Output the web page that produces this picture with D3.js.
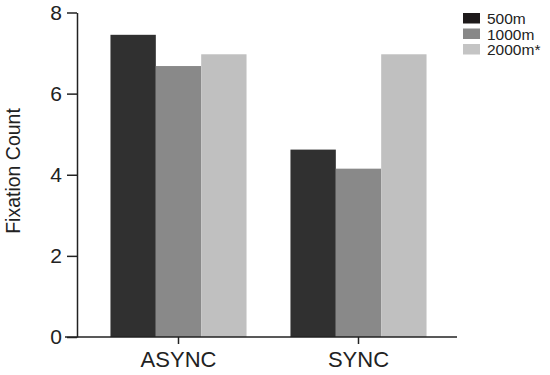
<!DOCTYPE html>
<html><head><meta charset="utf-8">
<script src="https://cdn.jsdelivr.net/npm/d3@7"></script>
<style>body{margin:0;background:#fff}svg{display:block}text{font-family:"Liberation Sans",Arial,sans-serif;fill:#222}</style>
</head><body>
<svg id="c" width="550" height="375"></svg>
<script>
const categories = ["ASYNC", "SYNC"];
const seriesNames = ["500m", "1000m", "2000m*"];
const s500 = [7.45, 4.62];
const s1000 = [6.68, 4.15];
const s2000 = [6.97, 6.97];
const yTicks = [0, 2, 4, 6, 8];
const barColors = ["#303030", "#898989", "#c0c0c0"];
const legendColors = ["#1e1a1b", "#888888", "#c4c4c4"];

const series = [s500, s1000, s2000];
const svg = d3.select("#c");
const y = d3.scaleLinear().domain([0, 8]).range([337, 12.5]);
const x0 = d3.scaleBand().domain(categories).range([88.5, 448.5]).paddingInner(0.244).paddingOuter(0.122);
const x1 = d3.scaleBand().domain(seriesNames).range([0, x0.bandwidth()]);

// bars
categories.forEach((c, ci) => {
  svg.append("g").selectAll("rect").data(seriesNames).join("rect")
    .attr("x", d => x0(c) + x1(d))
    .attr("width", x1.bandwidth())
    .attr("y", (d, si) => y(series[si][ci]))
    .attr("height", (d, si) => y(0) - y(series[si][ci]))
    .attr("fill", (d, si) => barColors[si]);
});

// y axis
const ya = svg.append("g").attr("transform", "translate(77,0)")
  .call(d3.axisLeft(y).tickValues(yTicks).tickSize(10).tickPadding(5).tickSizeOuter(0));
ya.select(".domain").attr("stroke", "#222").attr("stroke-width", 1.5);
ya.selectAll(".tick line").attr("stroke", "#222").attr("stroke-width", 1.5);
ya.selectAll(".tick text").style("font-size", "21px").attr("fill", "#222");

// x axis
const xa = svg.append("g").attr("transform", "translate(0,337)")
  .call(d3.axisBottom(x0).tickSize(7).tickPadding(7).tickSizeOuter(0));
xa.select(".domain").remove();
xa.selectAll(".tick line").attr("stroke", "#222").attr("stroke-width", 1.5);
xa.selectAll(".tick text").style("font-size", "22px").attr("fill", "#222").attr("dy", "0.72em");
svg.append("line").attr("x1", 65).attr("x2", 457).attr("y1", 337).attr("y2", 337)
  .attr("stroke", "#222").attr("stroke-width", 1.5);

// y label
svg.append("text").attr("transform", "translate(20,171) rotate(-90)")
  .attr("text-anchor", "middle").style("font-size", "19.5px").text("Fixation Count");

// legend
const lg = svg.append("g").attr("transform", "translate(463,13)");
seriesNames.forEach((n, i) => {
  lg.append("rect").attr("x", 0).attr("y", i * 15.5).attr("width", 17).attr("height", 10.5).attr("fill", legendColors[i]);
  lg.append("text").attr("x", 24).attr("y", i * 15.5 + 11).style("font-size", "15.5px").text(n);
});
</script>
</body></html>
